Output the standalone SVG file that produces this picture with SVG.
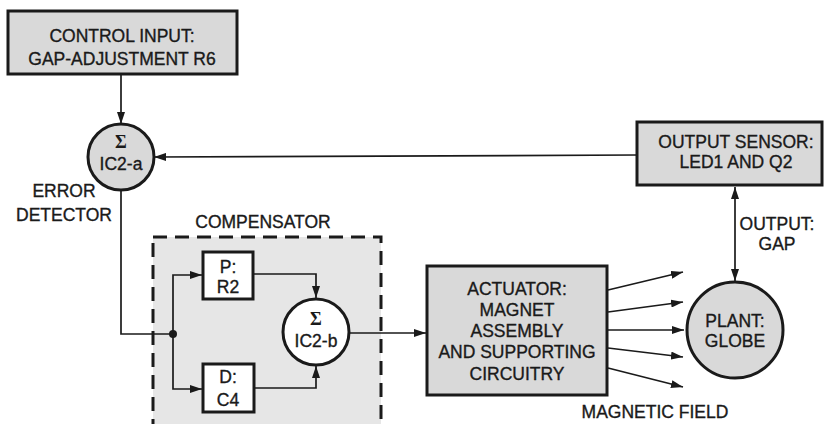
<svg xmlns="http://www.w3.org/2000/svg" width="829" height="424" viewBox="0 0 829 424">
<defs>
<marker id="arr" viewBox="0 0 12 8" refX="12" refY="4" markerWidth="12" markerHeight="8" markerUnits="userSpaceOnUse" orient="auto-start-reverse">
<path d="M0,0 L12,4 L0,8 Z" fill="#1a1a1a"/>
</marker>
<style>
.box{fill:#d9d9d9;stroke:#1a1a1a;stroke-width:3}
.wbox{fill:#ffffff;stroke:#1a1a1a;stroke-width:3}
.comp{fill:#e6e6e6;stroke:#1a1a1a;stroke-width:3;stroke-dasharray:14 8}
.t{font-family:"Liberation Sans",Arial,sans-serif;font-size:17.5px;fill:#1a1a1a;stroke:#1a1a1a;stroke-width:0.35;text-anchor:middle}
.sig{font-family:"Liberation Serif","DejaVu Serif",serif;font-size:18px;font-weight:bold;fill:#1a1a1a;text-anchor:middle}
.c{fill:none;stroke:#1a1a1a;stroke-width:1.7}
</style>
</defs>
<rect width="829" height="424" fill="#ffffff"/>

<g id="compensator">
<rect class="comp" x="153" y="237" width="228" height="200"/>
<text class="t" x="263" y="228">COMPENSATOR</text>
</g>

<g id="control-input">
<rect class="box" x="8" y="11" width="229" height="63"/>
<text class="t" x="122" y="42">CONTROL INPUT:</text>
<text class="t" x="122" y="65">GAP-ADJUSTMENT R6</text>
</g>

<g id="ic2a">
<circle class="box" cx="121" cy="157" r="33"/>
<text class="sig" x="121" y="148">Σ</text>
<text class="t" x="121" y="170">IC2-a</text>
</g>

<g id="error-detector-label">
<text class="t" x="64" y="197">ERROR</text>
<text class="t" x="64" y="221">DETECTOR</text>
</g>

<g id="p-box">
<rect class="wbox" x="203" y="252" width="50" height="47"/>
<text class="t" x="228" y="273">P:</text>
<text class="t" x="228" y="293">R2</text>
</g>

<g id="d-box">
<rect class="wbox" x="203" y="364" width="51" height="48"/>
<text class="t" x="228" y="383">D:</text>
<text class="t" x="228" y="406">C4</text>
</g>

<g id="ic2b">
<circle class="wbox" cx="316" cy="332" r="33"/>
<text class="sig" x="316" y="325">Σ</text>
<text class="t" x="316" y="347">IC2-b</text>
</g>

<g id="actuator">
<rect class="box" x="427" y="266" width="180" height="129"/>
<text class="t" x="517" y="295">ACTUATOR:</text>
<text class="t" x="517" y="316">MAGNET</text>
<text class="t" x="517" y="337">ASSEMBLY</text>
<text class="t" x="517" y="358">AND SUPPORTING</text>
<text class="t" x="517" y="380">CIRCUITRY</text>
</g>

<g id="plant">
<circle class="box" cx="735" cy="330" r="48"/>
<text class="t" x="735" y="327">PLANT:</text>
<text class="t" x="735" y="347">GLOBE</text>
</g>

<g id="output-sensor">
<rect class="box" x="637" y="122" width="185" height="63"/>
<text class="t" x="736" y="148">OUTPUT SENSOR:</text>
<text class="t" x="736" y="168">LED1 AND Q2</text>
</g>

<g id="labels">
<text class="t" x="777" y="230">OUTPUT:</text>
<text class="t" x="777" y="250">GAP</text>
<text class="t" x="655" y="418">MAGNETIC FIELD</text>
</g>

<g id="connectors">
<line class="c" x1="121" y1="74" x2="121" y2="124" marker-end="url(#arr)"/>
<line class="c" x1="637" y1="155" x2="154" y2="157" marker-end="url(#arr)"/>
<polyline class="c" points="121,190 121,334 173,334"/>
<circle cx="173" cy="334" r="4" fill="#1a1a1a"/>
<polyline class="c" points="173,334 173,275 202,275" marker-end="url(#arr)"/>
<polyline class="c" points="173,334 173,389 202,389" marker-end="url(#arr)"/>
<polyline class="c" points="253,274 316,274 316,298" marker-end="url(#arr)"/>
<polyline class="c" points="254,388 316,388 316,366" marker-end="url(#arr)"/>
<line class="c" x1="349" y1="333" x2="426" y2="333" marker-end="url(#arr)"/>
<line class="c" x1="608" y1="290" x2="683" y2="272" marker-end="url(#arr)"/>
<line class="c" x1="608" y1="312" x2="683" y2="302" marker-end="url(#arr)"/>
<line class="c" x1="608" y1="330" x2="684" y2="330" marker-end="url(#arr)"/>
<line class="c" x1="608" y1="348" x2="683" y2="357" marker-end="url(#arr)"/>
<line class="c" x1="608" y1="368" x2="683" y2="387" marker-end="url(#arr)"/>
<line class="c" x1="735" y1="187" x2="735" y2="281" marker-start="url(#arr)" marker-end="url(#arr)"/>
</g>
</svg>
